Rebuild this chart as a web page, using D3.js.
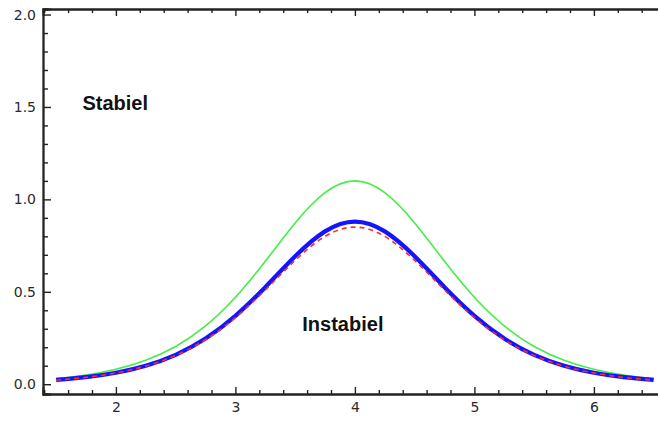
<!DOCTYPE html>
<html>
<head>
<meta charset="utf-8">
<script src="https://cdn.jsdelivr.net/npm/d3@7"></script>
<style>
  html, body { margin: 0; padding: 0; background: #fff; }
  svg { display: block; }
</style>
</head>
<body>
<div id="chart"></div>
<script>
// x positions of the sampled points
const xs = [1.5, 1.75, 2.0, 2.25, 2.5, 2.75, 3.0, 3.25, 3.5, 3.75, 4.0,
            4.25, 4.5, 4.75, 5.0, 5.25, 5.5, 5.75, 6.0, 6.25, 6.5];

// green thin curve (higher peak)
const greenVals = [0.030, 0.050, 0.081, 0.130, 0.204, 0.315, 0.470, 0.665, 0.872, 1.036, 1.100,
                   1.036, 0.872, 0.665, 0.470, 0.315, 0.204, 0.130, 0.081, 0.050, 0.030];

// blue thick curve
const blueVals = [0.023, 0.038, 0.062, 0.100, 0.159, 0.247, 0.370, 0.525, 0.692, 0.827, 0.880,
                  0.827, 0.692, 0.525, 0.370, 0.247, 0.159, 0.100, 0.062, 0.038, 0.023];

// red dashed curve
const redVals = [0.022, 0.037, 0.061, 0.098, 0.156, 0.241, 0.360, 0.510, 0.670, 0.800, 0.850,
                 0.800, 0.670, 0.510, 0.360, 0.241, 0.156, 0.098, 0.061, 0.037, 0.022];

const xMajor = [2, 3, 4, 5, 6];
const yMajor = [0.0, 0.5, 1.0, 1.5, 2.0];

const labels = [
  { text: "Stabiel", x: 1.72, y: 1.486 },
  { text: "Instabiel", x: 3.56, y: 0.289 }
];

const width = 658, height = 421;

const svg = d3.select("#chart").append("svg")
  .attr("width", width)
  .attr("height", height);

// scales (right edge of the frame falls outside the picture)
const x = d3.scaleLinear().domain([1.39, 6.62]).range([43, 668]);
const y = d3.scaleLinear().domain([-0.053, 2.03]).range([394, 9]);

const xMinor = d3.range(1.4, 6.61, 0.2).map(v => +v.toFixed(1)).filter(v => !xMajor.includes(v));
const yMinor = d3.range(0, 2.01, 0.1).map(v => +v.toFixed(1)).filter(v => !yMajor.includes(v));

function styleAxis(g) {
  g.select(".domain").attr("stroke", "#222").attr("stroke-width", 1.8);
  g.selectAll(".tick line").attr("stroke", "#222").attr("stroke-width", 1.4);
  g.selectAll("text")
    .style("font-family", "'DejaVu Sans', Verdana, sans-serif")
    .style("font-size", "14px")
    .attr("fill", "#2a2a2a");
}

// bottom axis: minor then major ticks, pointing inward
svg.append("g").attr("transform", `translate(0,${y.range()[0]})`)
  .call(d3.axisBottom(x).tickValues(xMinor).tickSize(-4).tickFormat(""))
  .call(styleAxis);
svg.append("g").attr("transform", `translate(0,${y.range()[0]})`)
  .call(d3.axisBottom(x).tickValues(xMajor).tickSize(-7).tickPadding(8).tickFormat(d3.format("d")))
  .call(styleAxis);

// top axis: ticks only
svg.append("g").attr("transform", `translate(0,${y.range()[1]})`)
  .call(d3.axisTop(x).tickValues(xMinor).tickSize(-4).tickFormat(""))
  .call(styleAxis);
svg.append("g").attr("transform", `translate(0,${y.range()[1]})`)
  .call(d3.axisTop(x).tickValues(xMajor).tickSize(-7).tickFormat(""))
  .call(styleAxis);

// left axis
svg.append("g").attr("transform", `translate(${x.range()[0]},0)`)
  .call(d3.axisLeft(y).tickValues(yMinor).tickSize(-5).tickFormat(""))
  .call(styleAxis);
svg.append("g").attr("transform", `translate(${x.range()[0]},0)`)
  .call(d3.axisLeft(y).tickValues(yMajor).tickSize(-8).tickPadding(7).tickFormat(d3.format(".1f")))
  .call(styleAxis);

// right axis (mostly off the picture)
svg.append("g").attr("transform", `translate(${x.range()[1]},0)`)
  .call(d3.axisRight(y).tickValues(yMajor).tickSize(-8).tickFormat(""))
  .call(styleAxis);

const line = vals => d3.line()
  .x((d, i) => x(xs[i]))
  .y(d => y(d))
  .curve(d3.curveNatural)(vals);

svg.append("path")
  .attr("d", line(greenVals))
  .attr("fill", "none")
  .attr("stroke", "#44ee44")
  .attr("stroke-width", 1.6);

svg.append("path")
  .attr("d", line(blueVals))
  .attr("fill", "none")
  .attr("stroke", "#1414ff")
  .attr("stroke-width", 4.2);

svg.append("path")
  .attr("d", line(redVals))
  .attr("fill", "none")
  .attr("stroke", "#ff2a2a")
  .attr("stroke-width", 1.6)
  .attr("stroke-dasharray", "5,4");

svg.selectAll(".lbl")
  .data(labels)
  .enter()
  .append("text")
  .attr("class", "lbl")
  .attr("x", d => x(d.x))
  .attr("y", d => y(d.y))
  .style("font-family", "'Liberation Sans', Arial, sans-serif")
  .style("font-size", "20px")
  .style("font-weight", "bold")
  .attr("fill", "#111")
  .text(d => d.text);
</script>
</body>
</html>
